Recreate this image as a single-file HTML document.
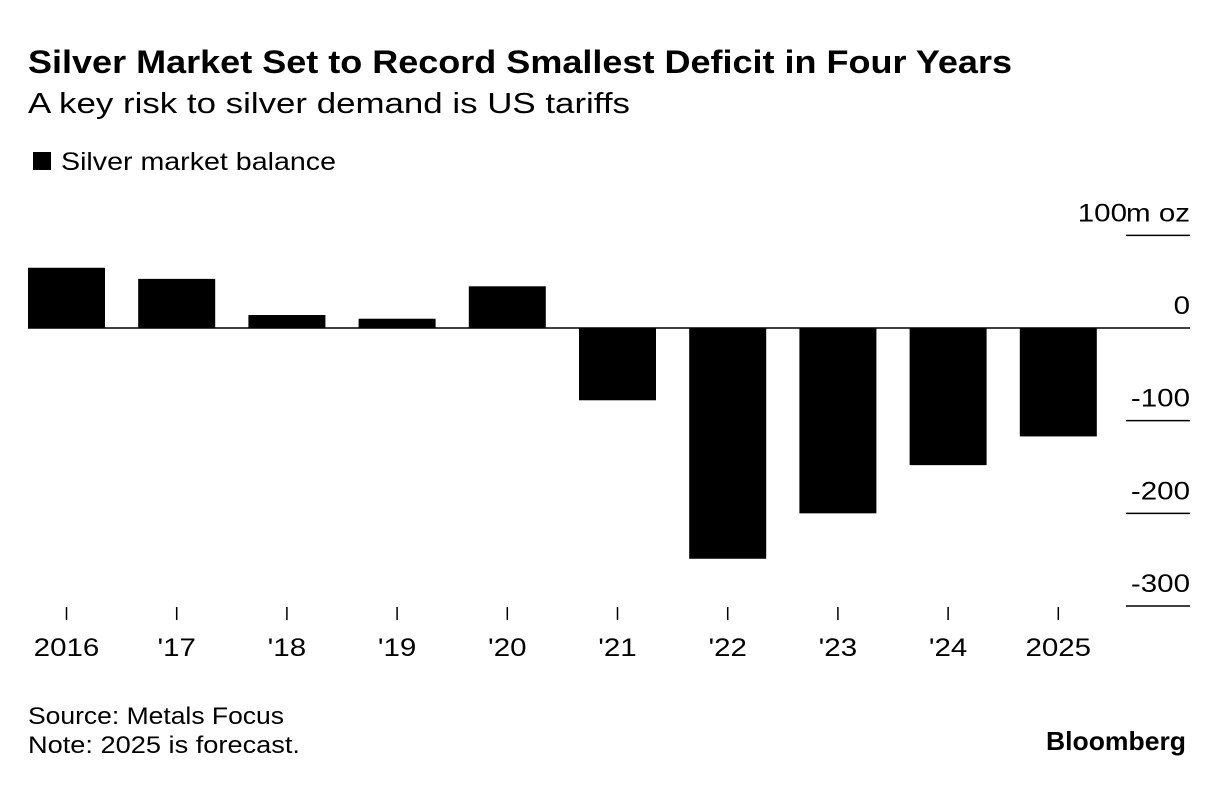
<!DOCTYPE html>
<html><head><meta charset="utf-8"><style>
body{margin:0;background:#fff;width:1224px;height:784px;overflow:hidden;font-family:"Liberation Sans",sans-serif;}
</style></head><body>
<svg width="1224" height="784" xmlns="http://www.w3.org/2000/svg" font-family="Liberation Sans, sans-serif">
<text x="28" y="73" font-size="32" font-weight="bold" fill="#000" textLength="984" lengthAdjust="spacingAndGlyphs">Silver Market Set to Record Smallest Deficit in Four Years</text>
<text x="28" y="113" font-size="29" fill="#000" textLength="602" lengthAdjust="spacingAndGlyphs">A key risk to silver demand is US tariffs</text>
<rect x="33" y="152" width="18" height="18" fill="#000"/>
<text x="61" y="170" font-size="25" fill="#000" textLength="275" lengthAdjust="spacingAndGlyphs">Silver market balance</text>
<g id="axis"></g>
<g id="bars"></g>
<g id="xaxis"></g>
<text x="28" y="724" font-size="24" fill="#000" textLength="256" lengthAdjust="spacingAndGlyphs">Source: Metals Focus</text>
<text x="28" y="753" font-size="24" fill="#000" textLength="272" lengthAdjust="spacingAndGlyphs">Note: 2025 is forecast.</text>
<text x="1186" y="750" font-size="26" font-weight="bold" text-anchor="end" fill="#000" textLength="140" lengthAdjust="spacingAndGlyphs">Bloomberg</text>
</svg>
<script>
const categories=["2016","'17","'18","'19","'20","'21","'22","'23","'24","2025"];
const values=[65,53,14,10,45,-78,-249,-200,-148,-117];
const yTicks=[100,0,-100,-200,-300];
const NS="http://www.w3.org/2000/svg";
function y(v){return 328-v*0.9267;}
function xc(i){return 66.5+i*110.2;}
const bw=77;
function mk(tag,attrs,parent){const e=document.createElementNS(NS,tag);for(const k in attrs)e.setAttribute(k,attrs[k]);document.getElementById(parent).appendChild(e);return e;}
function widen(e){const w=e.getComputedTextLength();e.setAttribute('textLength',w*1.18);e.setAttribute('lengthAdjust','spacingAndGlyphs');}
yTicks.forEach(t=>{
  const yy=y(t);
  if(t!==0){const l=mk('line',{x1:1126,x2:1190,y1:yy,y2:yy,stroke:'#000','stroke-width':1.5},'axis');
  
  }
  if(t===100){
    const a=mk('text',{x:1127,y:yy-14,'font-size':25,'text-anchor':'end'},'axis');a.textContent='100';widen(a);
    
    
    const b=mk('text',{x:1190,y:yy-14,'font-size':25,'text-anchor':'end'},'axis');b.textContent='m oz';widen(b);
    
    
  } else {
    const a=mk('text',{x:1190,y:yy-14,'font-size':25,'text-anchor':'end'},'axis');a.textContent=String(t);widen(a);
    
    
  }
});
values.forEach((v,i)=>{
  const top=Math.min(y(v),y(0)),h=Math.abs(y(v)-y(0));
  const r=mk('rect',{x:xc(i)-bw/2,y:top,width:bw,height:h,fill:'#000'},'bars');
  
  
  const t=mk('line',{x1:xc(i),x2:xc(i),y1:607,y2:620,stroke:'#000','stroke-width':1.5},'xaxis');
  
  
  const lb=mk('text',{x:xc(i),y:656,'font-size':25,'text-anchor':'middle'},'xaxis');lb.textContent=categories[i];widen(lb);
  
  
});
const z=mk('line',{x1:28,x2:1190,y1:y(0),y2:y(0),stroke:'#000','stroke-width':1.5},'axis');


</script>
</body></html>
